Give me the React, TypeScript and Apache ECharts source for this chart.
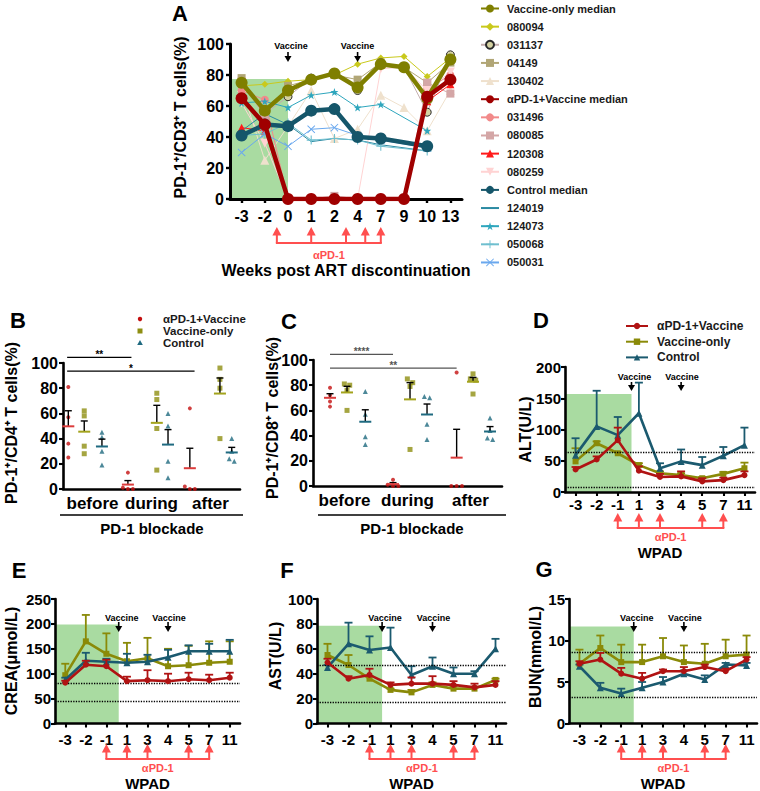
import React, { useEffect, useRef } from "react";
import * as echarts from "echarts";

const FONT = "Arial, 'Liberation Sans', Helvetica, sans-serif";

/* ---------------- Panel A : PD-1+/CD3+ T cells (%) ---------------- */
const weeksA = ["-3", "-2", "0", "1", "2", "4", "7", "9", "10", "13"];
const vacMedianA = [75, 57, 70, 77, 81, 72, 87, 85, 65, 90];
const v080094 = [73, 74, 76, 77, 80, 87, 91, 92, 79, 91];
const v031137 = [74, 55, 66, 78, 81, 70, 88, 85, 56, 93];
const v04149 = [78, 54, 73, 77, 80, 77, 88, 85, 75, 88];
const v130402 = [72, 25, 47, 70, 39, 45, 67, 59, 44, 70];
const pdMedianA = [65, 48, 0, 0, 0, 0, 0, 0, 66, 77];
const p031496 = [70, 64, 0, 0, 0, 0, 0, 0, 71, 80];
const p080085 = [76, 53, 0, 0, 2, 0, 0, 0, 75, 68];
const p120308 = [46, 44, 0, 0, 0, 0, 0, 0, 63, 74];
const p080259 = [62, 36, 0, 0, 0, 0, 84, 85, 70, 82];
const ctlMedianA = [41, 48, 47, 57, 58, 40, 39, null, 34, null];
const c124019 = [44, 55, 48, 37, 39, 38, 35, null, 31, null];
const c124073 = [62, 63, 59, 67, 69, 59, 61, null, 44, null];
const c050068 = [41, 42, 49, 38, 39, 38, 34, null, 31, null];
const c050031 = [30, 42, 34, 45, 46, 41, 38, null, 33, null];

/* ---------------- Panels B & C : individual values ---------------- */
const groupsBC = ["before", "during", "after"];
const cd4Pd = [[81, 57, 36, 25], [13, 1, 0, 0], [64, 2, 0, 0]];
const cd4Vac = [[62, 58, 34, 28], [76, 71, 48, 15], [96, 87, 80, 40]];
const cd4Ctl = [[45, 41, 30, 19], [60, 50, 22, 9], [40, 30, 24, 22]];
const cd8Pd = [[78, 72, 67, 63], [5, 1, 0, 0], [90, 0, 0, 0]];
const cd8Vac = [[81, 80, 76, 60], [85, 82, 79, 29], [89, 85, 84, 73]];
const cd8Ctl = [[75, 57, 39, 33], [71, 70, 49, 37], [54, 44, 38, 37]];

/* ---------------- Panels D-G : mean and mean+SEM ---------------- */
const wpad = ["-3", "-2", "-1", "1", "3", "4", "5", "7", "11"];
const altPd = [36, 52, 83, 34, 24, 25, 17, 19, 27];
const altPdTop = [40, 57, 103, 41, 29, 33, 22, 23, 33];
const altVac = [49, 78, 62, 43, 30, 27, 22, 29, 38];
const altVacTop = [70, 81, 64, 46, 33, 30, 24, 32, 47];
const altCtl = [59, 105, 91, 126, 38, 49, 43, 58, 75];
const altCtlTop = [86, 162, 120, 175, 46, 68, 56, 72, 103];

const creaPd = [82, 118, 115, 85, 87, 85, 89, 87, 92];
const creaPdTop = [86, 126, 128, 94, 107, 100, 102, 98, 102];
const creaVac = [97, 165, 140, 125, 131, 115, 117, 122, 124];
const creaVacTop = [120, 218, 181, 162, 172, 150, 156, 165, 165];
const creaCtl = [88, 126, 124, 122, 124, 133, 145, 145, 145];
const creaCtlTop = [92, 142, 130, 140, 138, 148, 157, 160, 168];

const astPd = [49, 36, 39, 31, 32, 32, 31, 29, 31];
const astPdTop = [52, 38, 44, 33, 37, 38, 34, 32, 34];
const astVac = [55, 47, 36, 27, 25, 31, 28, 28, 35];
const astVacTop = [64, 55, 38, 28, 27, 33, 30, 29, 36];
const astCtl = [45, 64, 59, 61, 39, 46, 40, 40, 60];
const astCtlTop = [47, 81, 70, 77, 46, 53, 45, 42, 68];

const bunPd = [7.2, 7.7, 6.0, 5.4, 6.3, 6.3, 6.8, 6.3, 7.7];
const bunPdTop = [7.5, 8.5, 6.7, 6.1, 6.5, 6.8, 7.1, 6.6, 8.0];
const bunVac = [7.2, 9.1, 7.4, 7.4, 8.1, 7.4, 7.2, 8.1, 8.3];
const bunVacTop = [8.9, 10.6, 9.5, 9.5, 10.3, 9.4, 9.6, 10.1, 10.6];
const bunCtl = [6.9, 4.3, 3.6, 4.3, 5.0, 6.0, 5.3, 7.1, 7.0];
const bunCtlTop = [7.1, 4.9, 4.2, 5.0, 5.6, 6.4, 5.8, 7.3, 7.3];

const refALT = [63, 7];
const refCREA = [80, 44];
const refAST = [47, 17];
const refBUN = [8.6, 3.2];

/* ---------------- layout & style ---------------- */
const GA = { left: 230, top: 44, width: 232, height: 155 };
const GB = { left: 63, top: 363, width: 177, height: 126 };
const GC = { left: 313, top: 360, width: 189, height: 126 };
const GD = { left: 565, top: 367, width: 190, height: 125 };
const GE = { left: 55, top: 599, width: 185, height: 124.5 };
const GF = { left: 317, top: 599, width: 189, height: 124.5 };
const GG = { left: 569, top: 599, width: 188, height: 124.5 };

const colB = { pd: [0.09, 1.1, 2.15], vac: [0.36, 1.59, 2.66], ctl: [0.66, 1.78, 2.86] };
const colC = { pd: [0.27, 1.27, 2.28], vac: [0.54, 1.54, 2.54], ctl: [0.83, 1.81, 2.81] };
const dosesA = [1.52, 3, 4.5, 5.33, 6];
const dosesW = [2, 3, 4, 6, 7];

const M_OLIVE = "#7f7f00";
const M_RED = "#a00000";
const M_TEAL = "#15566a";
const L_RED = "#b01313";
const L_OLIVE = "#8a8a08";
const L_TEAL = "#1b5a6f";
const P_RED = "#c41010";
const P_OLIVE = "#8e8e12";
const P_TEAL = "#1f6a80";
const ARED = "#ff4f4f";
const GREEN = "#a9dba1";

const STAR = "path://M50,0L61.8,35.4L99,35.4L68.9,57.3L80.4,92.7L50,70.8L19.6,92.7L31.1,57.3L1,35.4L38.2,35.4Z";
const PLUS = "path://M44,0H56V44H100V56H56V100H44V56H0V44H44Z";
const CROSS = "path://M8,0L50,42L92,0L100,8L58,50L100,92L92,100L50,58L8,100L0,92L42,50L0,8Z";

const mean = (a: number[]) => a.reduce((s, v) => s + v, 0) / a.length;
const sem = (a: number[]) => {
  const m = mean(a);
  return Math.sqrt(a.reduce((s, v) => s + (v - m) * (v - m), 0) / (a.length - 1)) / Math.sqrt(a.length);
};

function jitter(vals: number[], tol: number, step: number) {
  const offs = vals.map(() => 0);
  const used = vals.map(() => false);
  vals.forEach((v, i) => {
    if (used[i]) return;
    const cl: number[] = [];
    vals.forEach((w, j) => {
      if (!used[j] && Math.abs(w - v) <= tol) cl.push(j);
    });
    cl.forEach((j, k) => {
      used[j] = true;
      offs[j] = (k - (cl.length - 1) / 2) * step;
    });
  });
  return offs;
}

function yVal(gridIndex: number, max: number, interval: number, fs: number, lw: number, margin: number) {
  return {
    type: "value",
    gridIndex,
    min: 0,
    max,
    interval,
    axisLine: { show: true, lineStyle: { color: "#000", width: lw } },
    axisTick: { show: true, length: 4, lineStyle: { color: "#000", width: lw * 0.8 } },
    axisLabel: { color: "#000", fontSize: fs, fontWeight: "bold", fontFamily: FONT, margin },
    splitLine: { show: false },
  };
}

function xCat(gridIndex: number, data: string[], fs: number, lw: number, margin: number, ticks: boolean) {
  return {
    type: "category",
    gridIndex,
    data,
    boundaryGap: true,
    axisLine: { show: true, lineStyle: { color: "#000", width: lw } },
    axisTick: { show: ticks, alignWithLabel: true, length: 4, lineStyle: { color: "#000", width: lw * 0.8 } },
    axisLabel: { color: "#000", fontSize: fs, fontWeight: "bold", fontFamily: FONT, margin, interval: 0 },
    splitLine: { show: false },
  };
}

function lineA(name: string, data: (number | null)[], color: string, symbol: string, size: number, width: number, z: number, extra: any = {}) {
  return {
    type: "line",
    name,
    xAxisIndex: 0,
    yAxisIndex: 0,
    data,
    connectNulls: true,
    symbol,
    symbolSize: size,
    symbolRotate: extra.rotate || 0,
    lineStyle: { color: extra.lineColor || color, width },
    itemStyle: { color, borderColor: extra.border || color, borderWidth: extra.border ? 1 : 0 },
    z,
    silent: true,
  };
}

function scatterBC(name: string, xi: number, yi: number, groups: number[][], pos: number[], color: string, symbol: string, size: number) {
  const data: number[][] = [];
  groups.forEach((vals, g) => {
    const offs = jitter(vals, 3.5, 0.085);
    vals.forEach((v, i) => data.push([pos[g] + offs[i], v]));
  });
  return { type: "scatter", name, xAxisIndex: xi, yAxisIndex: yi, data, symbol, symbolSize: size, itemStyle: { color }, z: 3, silent: true };
}

function meanSem(xi: number, yi: number, sets: number[][][], pos: number[][], colors: string[]) {
  const data: number[][] = [];
  sets.forEach((groups, s) => {
    groups.forEach((vals, g) => {
      const m = mean(vals);
      data.push([pos[s][g], m, m + sem(vals), s]);
    });
  });
  return {
    type: "custom",
    xAxisIndex: xi,
    yAxisIndex: yi,
    data,
    encode: { x: 0, y: [1, 2] },
    z: 4,
    silent: true,
    renderItem: (_p: any, api: any) => {
      const x = api.value(0);
      const m = api.value(1);
      const t = api.value(2);
      const c = colors[api.value(3)];
      const a = api.coord([x, m]);
      const b = api.coord([x, t]);
      return {
        type: "group",
        children: [
          { type: "line", shape: { x1: a[0], y1: a[1], x2: b[0], y2: b[1] }, style: { stroke: "#000", lineWidth: 1.4 } },
          { type: "line", shape: { x1: b[0] - 3.5, y1: b[1], x2: b[0] + 3.5, y2: b[1] }, style: { stroke: "#000", lineWidth: 1.4 } },
          { type: "line", shape: { x1: a[0] - 6, y1: a[1], x2: a[0] + 6, y2: a[1] }, style: { stroke: c, lineWidth: 2 } },
        ],
      };
    },
  };
}

function errSeries(xi: number, yi: number, m: number[], t: number[], color: string, z: number) {
  return {
    type: "custom",
    xAxisIndex: xi,
    yAxisIndex: yi,
    data: m.map((v, i) => [i, v, t[i]]),
    encode: { x: 0, y: [1, 2] },
    z,
    silent: true,
    renderItem: (_p: any, api: any) => {
      const x = api.value(0);
      const a = api.coord([x, api.value(1)]);
      const b = api.coord([x, api.value(2)]);
      return {
        type: "group",
        children: [
          { type: "line", shape: { x1: a[0], y1: a[1], x2: b[0], y2: b[1] }, style: { stroke: color, lineWidth: 1.8 } },
          { type: "line", shape: { x1: b[0] - 4, y1: b[1], x2: b[0] + 4, y2: b[1] }, style: { stroke: color, lineWidth: 1.8 } },
        ],
      };
    },
  };
}

function labPanel(prefix: string, xi: number, yi: number, pd: number[], pdT: number[], vac: number[], vacT: number[], ctl: number[], ctlT: number[], refs: number[]) {
  const ln = (name: string, data: number[], color: string, symbol: string, size: number, z: number, ml?: any) => ({
    type: "line",
    name: prefix + name,
    xAxisIndex: xi,
    yAxisIndex: yi,
    data,
    symbol,
    symbolSize: size,
    lineStyle: { color, width: 2.6 },
    itemStyle: { color },
    z,
    silent: true,
    markLine: ml,
  });
  const ml = {
    silent: true,
    symbol: "none",
    label: { show: false },
    lineStyle: { type: "dotted", color: "#000", width: 1.3 },
    data: refs.map((r) => ({ yAxis: r })),
  };
  return [
    ln("Vaccine-only", vac, L_OLIVE, "rect", 6, 3, ml),
    errSeries(xi, yi, vac, vacT, L_OLIVE, 3),
    ln("Control", ctl, L_TEAL, "triangle", 7, 4),
    errSeries(xi, yi, ctl, ctlT, L_TEAL, 4),
    ln("αPD-1+Vaccine", pd, L_RED, "circle", 6, 5),
    errSeries(xi, yi, pd, pdT, L_RED, 5),
  ];
}

function buildOption() {
  const grids = [GA, GB, GC, GD, GE, GF, GG].map((g) => ({
    left: g.left,
    top: g.top,
    width: g.width,
    height: g.height,
    containLabel: false,
    outerBoundsMode: "none",
  }));
  const xAxis = [
    xCat(0, weeksA, 16, 3, 9, true),
    xCat(1, groupsBC, 17, 2.6, 6, false),
    { type: "value", gridIndex: 1, min: 0, max: 3, show: false },
    xCat(2, groupsBC, 17, 2.6, 6, false),
    { type: "value", gridIndex: 2, min: 0, max: 3, show: false },
    xCat(3, wpad, 15, 2.6, 5, true),
    xCat(4, wpad, 15, 2.6, 8, true),
    xCat(5, wpad, 15, 2.6, 8, true),
    xCat(6, wpad, 15, 2.6, 8, true),
  ];
  const yAxis = [
    yVal(0, 100, 20, 16, 3, 6),
    yVal(1, 100, 20, 16, 2.6, 5),
    yVal(2, 100, 20, 16, 2.6, 5),
    yVal(3, 200, 50, 15, 2.6, 4),
    yVal(4, 250, 50, 15, 2.6, 4),
    yVal(5, 100, 20, 15, 2.6, 4),
    yVal(6, 15, 5, 15, 2.6, 4),
  ];

  const seriesA = [
    lineA("080094", v080094, "#c9c91c", "diamond", 7, 1, 2),
    lineA("031137", v031137, "#d5d2a2", "circle", 8, 1, 2, { border: "#2a2a2a", lineColor: "#c4aeae" }),
    lineA("04149", v04149, "#b1a676", "rect", 8, 1, 2),
    lineA("130402", v130402, "#efe1cd", "triangle", 9, 1, 2),
    lineA("031496", p031496, "#f28a8a", "circle", 8, 1, 2),
    lineA("080085", p080085, "#d4a6a6", "rect", 8, 1, 2),
    lineA("120308", p120308, "#ff1a1a", "triangle", 8, 1, 2),
    lineA("080259", p080259, "#ffd3d3", "triangle", 9, 1, 2, { rotate: 180 }),
    lineA("124019", c124019, "#2b8aa3", "none", 1, 1, 2),
    lineA("124073", c124073, "#2ea6bd", STAR, 8, 1, 2),
    lineA("050068", c050068, "#6fbfcf", PLUS, 9, 1, 2),
    lineA("050031", c050031, "#6aa8ee", CROSS, 8, 1, 2),
    lineA("Control median", ctlMedianA, M_TEAL, "circle", 12, 4.5, 3),
    lineA("Vaccine-only median", vacMedianA, M_OLIVE, "circle", 12, 4.5, 4),
    lineA("αPD-1+Vaccine median", pdMedianA, M_RED, "circle", 12, 4.5, 5),
  ];

  const seriesBC = [
    scatterBC("αPD-1+Vaccine", 2, 1, cd4Pd, colB.pd, P_RED, "circle", 4),
    scatterBC("Vaccine-only", 2, 1, cd4Vac, colB.vac, P_OLIVE, "rect", 5),
    scatterBC("Control", 2, 1, cd4Ctl, colB.ctl, P_TEAL, "triangle", 5),
    meanSem(2, 1, [cd4Pd, cd4Vac, cd4Ctl], [colB.pd, colB.vac, colB.ctl], ["#dc3c3c", "#a3a31c", "#1f6a80"]),
    scatterBC("C:αPD-1+Vaccine", 4, 2, cd8Pd, colC.pd, P_RED, "circle", 4),
    scatterBC("C:Vaccine-only", 4, 2, cd8Vac, colC.vac, P_OLIVE, "rect", 5),
    scatterBC("C:Control", 4, 2, cd8Ctl, colC.ctl, P_TEAL, "triangle", 5),
    meanSem(4, 2, [cd8Pd, cd8Vac, cd8Ctl], [colC.pd, colC.vac, colC.ctl], ["#dc3c3c", "#a3a31c", "#1f6a80"]),
  ];

  const seriesDG = [
    ...labPanel("D:", 5, 3, altPd, altPdTop, altVac, altVacTop, altCtl, altCtlTop, refALT),
    ...labPanel("E:", 6, 4, creaPd, creaPdTop, creaVac, creaVacTop, creaCtl, creaCtlTop, refCREA),
    ...labPanel("F:", 7, 5, astPd, astPdTop, astVac, astVacTop, astCtl, astCtlTop, refAST),
    ...labPanel("G:", 8, 6, bunPd, bunPdTop, bunVac, bunVacTop, bunCtl, bunCtlTop, refBUN),
  ];

  const legendA = [
    "Vaccine-only median", "080094", "031137", "04149", "130402",
    "αPD-1+Vaccine median", "031496", "080085", "120308", "080259",
    "Control median", "124019", "124073", "050068", "050031",
  ].map((n) => (n === "124019" ? { name: n, itemStyle: { opacity: 0 } } : { name: n }));

  return {
    animation: false,
    backgroundColor: "#ffffff",
    textStyle: { fontFamily: FONT },
    grid: grids,
    xAxis,
    yAxis,
    legend: [
      {
        orient: "vertical",
        left: 480,
        top: 3,
        padding: 0,
        itemWidth: 18,
        itemHeight: 10,
        itemGap: 7.14,
        selectedMode: false,
        textStyle: { fontSize: 11, fontWeight: "bold", color: "#1a1a1a", fontFamily: FONT, lineHeight: 10, padding: [0, 0, 0, 3] },
        data: legendA,
      },
      {
        orient: "vertical",
        left: 625,
        top: 320,
        padding: 0,
        itemWidth: 22,
        itemHeight: 8,
        itemGap: 3.7,
        selectedMode: false,
        textStyle: { fontSize: 12, fontWeight: "bold", color: "#1a1a1a", fontFamily: FONT, lineHeight: 8, padding: [0, 0, 0, 4] },
        formatter: (n: string) => n.replace(/^D:/, ""),
        data: ["D:αPD-1+Vaccine", "D:Vaccine-only", "D:Control"],
      },
    ],
    series: [...seriesA, ...seriesBC, ...seriesDG],
  };
}

function buildGraphic(chart: any) {
  const els: any[] = [];
  const pt = (xi: number, yi: number, x: number, y: number): number[] => {
    const f = Math.floor(x);
    const c = Math.ceil(x);
    const a = chart.convertToPixel({ xAxisIndex: xi, yAxisIndex: yi }, [f, y]);
    if (c === f) return a;
    const b = chart.convertToPixel({ xAxisIndex: xi, yAxisIndex: yi }, [c, y]);
    return [a[0] + (b[0] - a[0]) * (x - f), a[1]];
  };
  const txt = (x: number, y: number, t: string, size: number, color = "#000", rot = 0, align = "center", lh?: number) => ({
    type: "text",
    x,
    y,
    rotation: rot,
    silent: true,
    z: 20,
    style: {
      text: t,
      fill: color,
      fontSize: size,
      fontWeight: "bold",
      fontFamily: FONT,
      align,
      verticalAlign: "middle",
      textAlign: align,
      textVerticalAlign: "middle",
      lineHeight: lh || Math.round(size * 1.15),
    },
  });
  const ln = (x1: number, y1: number, x2: number, y2: number, color: string, w: number) => ({
    type: "line",
    silent: true,
    z: 20,
    shape: { x1, y1, x2, y2 },
    style: { stroke: color, lineWidth: w },
  });
  const poly = (points: number[][], color: string) => ({ type: "polygon", silent: true, z: 20, shape: { points }, style: { fill: color } });

  // green shading (pre-treatment period)
  const shade = (xi: number, yi: number, g: any, endIdx: number, topVal: number) => {
    const e = pt(xi, yi, endIdx, topVal);
    els.push({
      type: "rect",
      silent: true,
      z: -5,
      shape: { x: g.left, y: e[1], width: e[0] - g.left, height: g.top + g.height - e[1] },
      style: { fill: GREEN },
    });
  };
  shade(0, 0, GA, 2, 77.5);
  shade(5, 3, GD, 2.65, 157);
  shade(6, 4, GE, 2.6, 199);
  shade(7, 5, GF, 2.6, 78.6);
  shade(8, 6, GG, 2.6, 11.7);

  // vaccine arrows
  const vac = (xi: number, yi: number, g: any, idx: number, dyText: number, dyTop: number, dyTip: number, dx: number) => {
    const x = pt(xi, yi, idx, 0)[0];
    els.push(txt(x + dx, g.top + dyText, "Vaccine", 9));
    els.push(ln(x, g.top + dyTop, x, g.top + dyTip - 4, "#000", 1.6));
    els.push(poly([[x - 3.5, g.top + dyTip - 6], [x + 3.5, g.top + dyTip - 6], [x, g.top + dyTip]], "#000"));
  };
  vac(0, 0, GA, 2, 2, 8, 18, 3);
  vac(0, 0, GA, 5, 2, 8, 18, 0);
  vac(5, 3, GD, 2.65, 10, 15, 24, 3);
  vac(5, 3, GD, 5, 10, 15, 24, 1);
  [[6, 4, GE], [7, 5, GF], [8, 6, GG]].forEach(([xi, yi, g]: any) => {
    vac(xi, yi, g, 2.6, 18.7, 23, 33, 3);
    vac(xi, yi, g, 5, 18.7, 23, 33, 1);
  });

  // αPD-1 dosing brackets
  const bracket = (xi: number, yi: number, g: any, idxs: number[], tipY: number, baseY: number, labY: number, titleY: number, title: string, tSize: number) => {
    const xs = idxs.map((i) => pt(xi, yi, i, 0)[0]);
    xs.forEach((x) => {
      els.push(ln(x, tipY + 6, x, baseY, ARED, 2));
      els.push(poly([[x - 4.5, tipY + 8.5], [x + 4.5, tipY + 8.5], [x, tipY]], ARED));
    });
    els.push(ln(xs[0] - 1, baseY, xs[xs.length - 1] + 1, baseY, ARED, 2));
    els.push(txt((xs[0] + xs[xs.length - 1]) / 2, labY, "αPD-1", 11, ARED));
    els.push(txt(g.left + g.width / 2, titleY, title, tSize));
  };
  bracket(0, 0, GA, dosesA, 227, 243, 255, 270, "Weeks post ART discontinuation", 16);
  bracket(5, 3, GD, dosesW, 513, 528, 537, 552, "WPAD", 15);
  bracket(6, 4, GE, dosesW, 744, 759, 768, 783, "WPAD", 15);
  bracket(7, 5, GF, dosesW, 744, 759, 768, 783, "WPAD", 15);
  bracket(8, 6, GG, dosesW, 744, 759, 768, 783, "WPAD", 15);

  // significance bars (B, C)
  const sig = (xi: number, yi: number, x1: number, x2: number, y: number, label: string, color: string) => {
    const a = pt(xi, yi, x1, y);
    const b = pt(xi, yi, x2, y);
    els.push(ln(a[0], a[1], b[0], b[1], color, 1.3));
    els.push(txt((a[0] + b[0]) / 2, a[1] - 3, label, 10, color, 0, "center", 8));
  };
  sig(2, 1, colB.pd[0] - 0.02, colB.pd[1] + 0.06, 104.5, "**", "#000");
  sig(2, 1, colB.pd[0] - 0.02, colB.pd[2] + 0.08, 93.5, "*", "#000");
  sig(4, 2, colC.pd[0], colC.pd[1], 104.5, "****", "#555");
  sig(4, 2, colC.pd[0], colC.pd[2], 93.5, "**", "#555");

  // PD-1 blockade brackets
  els.push(ln(60, 515, 243, 515, "#000", 1.6));
  els.push(txt(152, 528, "PD-1 blockade", 15));
  els.push(ln(318, 515, 506, 515, "#000", 1.6));
  els.push(txt(412, 528, "PD-1 blockade", 15));

  // legend for B & C
  const lx = 140;
  els.push({ type: "circle", silent: true, z: 20, shape: { cx: lx, cy: 319, r: 2.2 }, style: { fill: P_RED } });
  els.push({ type: "rect", silent: true, z: 20, shape: { x: lx - 2.5, y: 328.5, width: 5, height: 5 }, style: { fill: P_OLIVE } });
  els.push(poly([[lx - 2.8, 345], [lx + 2.8, 345], [lx, 340]], P_TEAL));
  els.push(txt(163, 319, "αPD-1+Vaccine", 11.5, "#1a1a1a", 0, "left", 11));
  els.push(txt(163, 331, "Vaccine-only", 11.5, "#1a1a1a", 0, "left", 11));
  els.push(txt(163, 343, "Control", 11.5, "#1a1a1a", 0, "left", 11));

  // axis titles
  const R = Math.PI / 2;
  els.push(txt(180, GA.top + GA.height / 2 - 4, "PD-1⁺/CD3⁺ T cells(%)", 16, "#000", R));
  els.push(txt(11, 423, "PD-1⁺/CD4⁺ T cells(%)", 16, "#000", R));
  els.push(txt(272, 418, "PD-1⁺/CD8⁺ T cells(%)", 16, "#000", R));
  els.push(txt(525, GD.top + GD.height / 2, "ALT(U/L)", 16, "#000", R));
  els.push(txt(11, 661, "CREA(μmol/L)", 16, "#000", R));
  els.push(txt(275, 656, "AST(U/L)", 16, "#000", R));
  els.push(txt(535, 657, "BUN(mmol/L)", 16, "#000", R));

  // panel letters
  els.push(txt(180, 13, "A", 22));
  els.push(txt(18, 320, "B", 22));
  els.push(txt(289, 321, "C", 22));
  els.push(txt(541, 320, "D", 22));
  els.push(txt(19, 570, "E", 22));
  els.push(txt(287, 570, "F", 22));
  els.push(txt(544, 569, "G", 22));

  return els;
}

export default function App() {
  const ref = useRef<HTMLDivElement | null>(null);
  useEffect(() => {
    if (!ref.current) return;
    const chart = echarts.init(ref.current, null, { renderer: "svg" });
    chart.setOption(buildOption() as any);
    chart.setOption({ graphic: buildGraphic(chart) } as any);
    return () => {
      chart.dispose();
    };
  }, []);
  return (
    <div
      ref={ref}
      style={{ position: "absolute", left: 0, top: 0, width: 760, height: 791, background: "#ffffff" }}
    />
  );
}
